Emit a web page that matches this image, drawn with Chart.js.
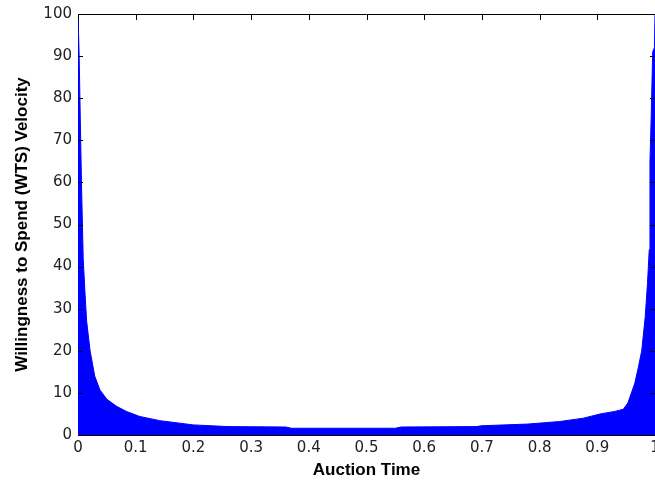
<!DOCTYPE html>
<html>
<head>
<meta charset="utf-8">
<title>WTS Velocity</title>
<script src="https://cdn.jsdelivr.net/npm/chart.js@4.4.1/dist/chart.umd.min.js"></script>
<style>
    html, body { margin: 0; padding: 0; background: #fff; }
    #wrap { width: 655px; height: 486px; }
</style>
</head>
<body>
<div id="wrap"><canvas id="chartWts" width="655" height="486"></canvas></div>
<script>
// ========================================
// Willingness to Spend (WTS) Velocity vs Auction Time
// ========================================

// Auction time samples (x axis)
const auctionTime = [
    0, 0.002, 0.004, 0.006, 0.009, 0.012, 0.015, 0.021, 0.029, 0.038,
    0.05, 0.067, 0.084, 0.107, 0.142, 0.2, 0.26, 0.36, 0.37, 0.55,
    0.56, 0.69, 0.7, 0.78, 0.835, 0.876, 0.905, 0.93, 0.945, 0.953,
    0.965, 0.971, 0.977, 0.983, 0.987, 0.99, 0.9913, 0.9935, 0.996, 0.999, 1
];

// Upper edge of the bundle of WTS velocity curves
const wtsVelocity = [
    100, 90, 75, 60, 42, 34, 27, 20, 14, 10.7,
    8.5, 6.8, 5.6, 4.4, 3.4, 2.4, 2.0, 1.9, 1.6, 1.6,
    1.9, 2.0, 2.2, 2.6, 3.2, 4.0, 5.0, 5.6, 6.1, 7.6,
    12.3, 16, 20, 28, 36, 44, 65, 76, 91, 92, 100
];

// Tick labels
const xTickLabels = ['0', '0.1', '0.2', '0.3', '0.4', '0.5', '0.6', '0.7', '0.8', '0.9', '1'];
const yTickLabels = ['0', '10', '20', '30', '40', '50', '60', '70', '80', '90', '100'];

const BLUE = '#0000ff';
const TICK_FONT = { family: 'DejaVu Sans', size: 15 };
const TITLE_FONT = { family: 'Liberation Sans', size: 17, weight: 'bold' };

/**
 * MATLAB style box: top border and inward ticks
 */
const matlabBox = {
    id: 'matlabBox',
    beforeDatasetsDraw(chart) {
        // bottom ticks sit under the curves
        const { ctx, chartArea: a, scales: { x } } = chart;
        ctx.save();
        ctx.strokeStyle = '#000';
        ctx.lineWidth = 1;
        ctx.beginPath();
        x.ticks.forEach(t => {
            const px = Math.round(x.getPixelForValue(t.value)) + 0.5;
            ctx.moveTo(px, a.bottom);
            ctx.lineTo(px, a.bottom - 6);
        });
        ctx.stroke();
        ctx.restore();
    },
    afterDatasetsDraw(chart) {
        const { ctx, chartArea: a, scales: { x, y } } = chart;
        ctx.save();
        ctx.strokeStyle = '#000';
        ctx.lineWidth = 1;
        ctx.beginPath();
        // top border
        ctx.moveTo(a.left, a.top + 0.5);
        ctx.lineTo(a.right, a.top + 0.5);
        // top ticks
        x.ticks.forEach(t => {
            const px = Math.round(x.getPixelForValue(t.value)) + 0.5;
            ctx.moveTo(px, a.top);
            ctx.lineTo(px, a.top + 6);
        });
        // left and right ticks
        y.ticks.forEach(t => {
            const py = Math.round(y.getPixelForValue(t.value)) + 0.5;
            ctx.moveTo(a.left, py);
            ctx.lineTo(a.left + 5, py);
            ctx.moveTo(a.right, py);
            ctx.lineTo(a.right - 5, py);
        });
        ctx.stroke();
        ctx.restore();
    }
};

function initChartWts() {
    const ctx = document.getElementById('chartWts');
    if (!ctx) return;

    new Chart(ctx, {
        type: 'line',
        data: {
            datasets: [{
                label: 'WTS Velocity',
                data: auctionTime.map((t, i) => ({ x: t, y: wtsVelocity[i] })),
                borderColor: BLUE,
                backgroundColor: BLUE,
                borderWidth: 1,
                fill: 'origin',
                pointRadius: 0,
                tension: 0
            }]
        },
        options: {
            responsive: false,
            animation: false,
            layout: {
                autoPadding: false,
                padding: { top: 14, left: 0, right: 0, bottom: 0 }
            },
            plugins: {
                legend: { display: false },
                tooltip: { enabled: false }
            },
            scales: {
                x: {
                    type: 'linear',
                    min: 0,
                    max: 1,
                    afterFit: s => {
                        s.height = 51;
                        // let the last label run off the canvas like the original
                        s.paddingLeft = 0;
                        s.paddingRight = 0;
                    },
                    grid: { display: false, drawTicks: false },
                    border: { display: true, color: '#000', width: 1 },
                    ticks: {
                        stepSize: 0.1,
                        padding: 4,
                        color: '#222',
                        font: TICK_FONT,
                        maxRotation: 0,
                        autoSkip: false,
                        callback: v => xTickLabels[Math.round(v * 10)]
                    },
                    title: {
                        display: true,
                        text: 'Auction Time',
                        color: '#000',
                        font: TITLE_FONT,
                        padding: { top: 0, bottom: 5 }
                    }
                },
                y: {
                    type: 'linear',
                    min: 0,
                    max: 100,
                    afterFit: s => {
                        s.width = 78;
                        s.paddingTop = 0;
                        s.paddingBottom = 0;
                    },
                    grid: { display: false, drawTicks: false },
                    border: { display: true, color: '#000', width: 1 },
                    ticks: {
                        stepSize: 10,
                        padding: 6,
                        color: '#222',
                        font: TICK_FONT,
                        autoSkip: false,
                        callback: v => yTickLabels[Math.round(v / 10)]
                    },
                    title: {
                        display: true,
                        text: 'Willingness to Spend (WTS) Velocity',
                        color: '#000',
                        font: TITLE_FONT,
                        padding: { top: 12, bottom: 0 }
                    }
                }
            }
        },
        plugins: [matlabBox]
    });
}

document.addEventListener('DOMContentLoaded', function () {
    try {
        initChartWts();
    } catch (error) {
        console.error('Error initializing chart:', error);
    }
});
</script>
</body>
</html>
